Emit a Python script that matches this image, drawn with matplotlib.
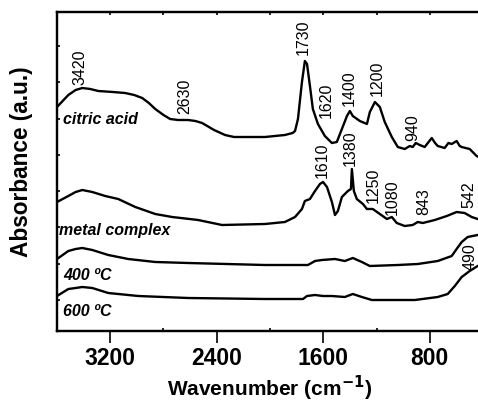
import numpy as np
import matplotlib.pyplot as plt

plt.rcParams['font.family'] = ['Liberation Sans', 'DejaVu Sans']

# spectra (wavenumber in cm-1, absorbance in a.u.)
wn_citric = [3600, 3515, 3460, 3410, 3350, 3290, 3180, 3088, 3020, 2960, 2910, 2862, 2800,
             2750, 2690, 2615, 2560, 2510, 2420, 2338, 2270, 2210,
             2038, 1888, 1830, 1812, 1790, 1760, 1738, 1722, 1700, 1678, 1640, 1588, 1535,
             1498, 1460, 1422, 1400, 1378, 1325, 1272, 1250, 1212, 1175, 1138, 1085,
             1040, 988, 950, 928, 905, 875, 838, 785, 760, 740, 688, 660, 635, 598,
             575, 560, 500, 448, 400]
ab_citric = [224, 236, 241, 243, 242, 240, 239, 238, 236, 233, 228, 222, 216,
             212, 211, 211, 210, 208, 201, 196, 194, 194,
             194, 196, 198, 200, 212, 249, 270, 267, 245, 222, 207, 195, 188,
             189, 202, 215, 220, 215, 210, 207, 219, 229, 224, 209, 194,
             184, 182, 185, 184, 188, 186, 184, 193, 188, 185, 183, 188, 187, 190,
             185, 184, 182, 175, 172]

wn_metal = [3600, 3515, 3460, 3410, 3335, 3238, 3140, 3012, 2862, 2735, 2540, 2360, 2038,
            1888, 1812, 1760, 1738, 1700, 1662, 1625, 1602, 1572, 1535, 1512, 1490,
            1460, 1415, 1392, 1385, 1370, 1348, 1302, 1272, 1228, 1175, 1122, 1085,
            1048, 988, 928, 890, 852, 762, 672, 598, 538, 485, 440, 400]
ab_metal = [129, 135, 139, 141, 139, 135, 132, 124, 117, 114, 111, 106, 107,
            109, 114, 122, 130, 132, 140, 147, 149, 144, 129, 116, 120,
            134, 140, 142, 162, 140, 132, 127, 122, 122, 117, 112, 114,
            108, 105, 106, 109, 108, 111, 115, 119, 118, 114, 112, 111]

wn_400 = [3600, 3515, 3460, 3410, 3335, 3215, 3065, 2862, 2615, 2038, 1715, 1662, 1610,
          1512, 1438, 1378, 1310, 1250, 1040, 890, 740, 635, 598, 560, 515, 440, 400]
ab_400 = [72, 80, 82, 83, 81, 76, 72, 69, 68, 66, 66, 70, 71,
          72, 70, 73, 69, 65, 66, 67, 70, 75, 82, 89, 94, 96, 97]

wn_600 = [3600, 3515, 3460, 3410, 3335, 3215, 2990, 2615, 2038, 1752, 1722, 1662, 1602,
          1535, 1438, 1378, 1310, 1235, 912, 740, 665, 612, 560, 500, 440, 400]
ab_600 = [35, 42, 43, 44, 43, 38, 35, 33, 32, 32, 35, 36, 35,
          35, 34, 37, 34, 31, 31, 34, 37, 45, 54, 60, 65, 67]

# peak labels: text, wavenumber position, height
peak_txt = ["3420", "2630", "1730", "1620", "1400", "1200", "940",
            "1610", "1380", "1250", "1080", "843", "542", "490"]
peak_wn = [3425, 2638, 1752, 1580, 1408, 1198, 928,
           1610, 1400, 1228, 1078, 845, 508, 500]
peak_ab = [265, 236, 295, 232, 244, 254, 204,
           172, 184, 147, 135, 130, 137, 75]

names = ["citric acid", "metal complex", "400 ºC", "600 ºC"]
name_wn = [3552, 3585, 3552, 3552]
name_ab = [212, 101, 56, 20]

fig = plt.figure(figsize=(4.78, 4.02), dpi=100)
ax = fig.add_axes([57 / 478, 70 / 402, 426 / 478, 319 / 402])

for w, a in [(wn_citric, ab_citric), (wn_metal, ab_metal), (wn_400, ab_400), (wn_600, ab_600)]:
    ax.plot(w, a, color="black", lw=1.7, solid_joinstyle="round")

for t, w, a in zip(peak_txt, peak_wn, peak_ab):
    ax.text(w, a, t, rotation=90, ha="center", va="center", fontsize=11.5)

for t, w, a in zip(names, name_wn, name_ab):
    ax.text(w, a, t, ha="left", va="center", fontsize=11.5, fontweight="bold", style="italic")

ax.set_xlim(3600, 400)
ax.set_ylim(0, 319)

ax.set_xticks([3200, 2400, 1600, 800])
ax.set_xticks([3600, 2800, 2000, 1200, 400], minor=True)
ax.tick_params(axis="x", which="major", direction="out", length=8.5, width=1.2,
               labelsize=16.5, pad=2)
ax.tick_params(axis="x", which="minor", direction="in", length=2.5, width=1.2)
for lab in ax.get_xticklabels():
    lab.set_fontweight("bold")

ax.set_yticks(np.arange(31, 319, 36.3))
ax.tick_params(axis="y", direction="in", length=2.5, width=1.2, labelleft=False)

top = ax.twiny()
top.set_xlim(3600, 400)
top.set_xticks(np.arange(3600, 399, -400))
top.tick_params(axis="x", direction="in", length=2.5, width=1.2, labeltop=False)

for s in ax.spines.values():
    s.set_linewidth(1.6)
for s in top.spines.values():
    s.set_linewidth(1.6)

ax.set_xlabel("Wavenumber (cm$^{\\mathbf{-1}}$)", fontsize=15, fontweight="bold", labelpad=3)
ax.set_ylabel("Absorbance (a.u.)", fontsize=16.3, fontweight="bold")
ax.yaxis.set_label_coords(-0.056, 0.533)

fig.savefig("out.png", dpi=100)
